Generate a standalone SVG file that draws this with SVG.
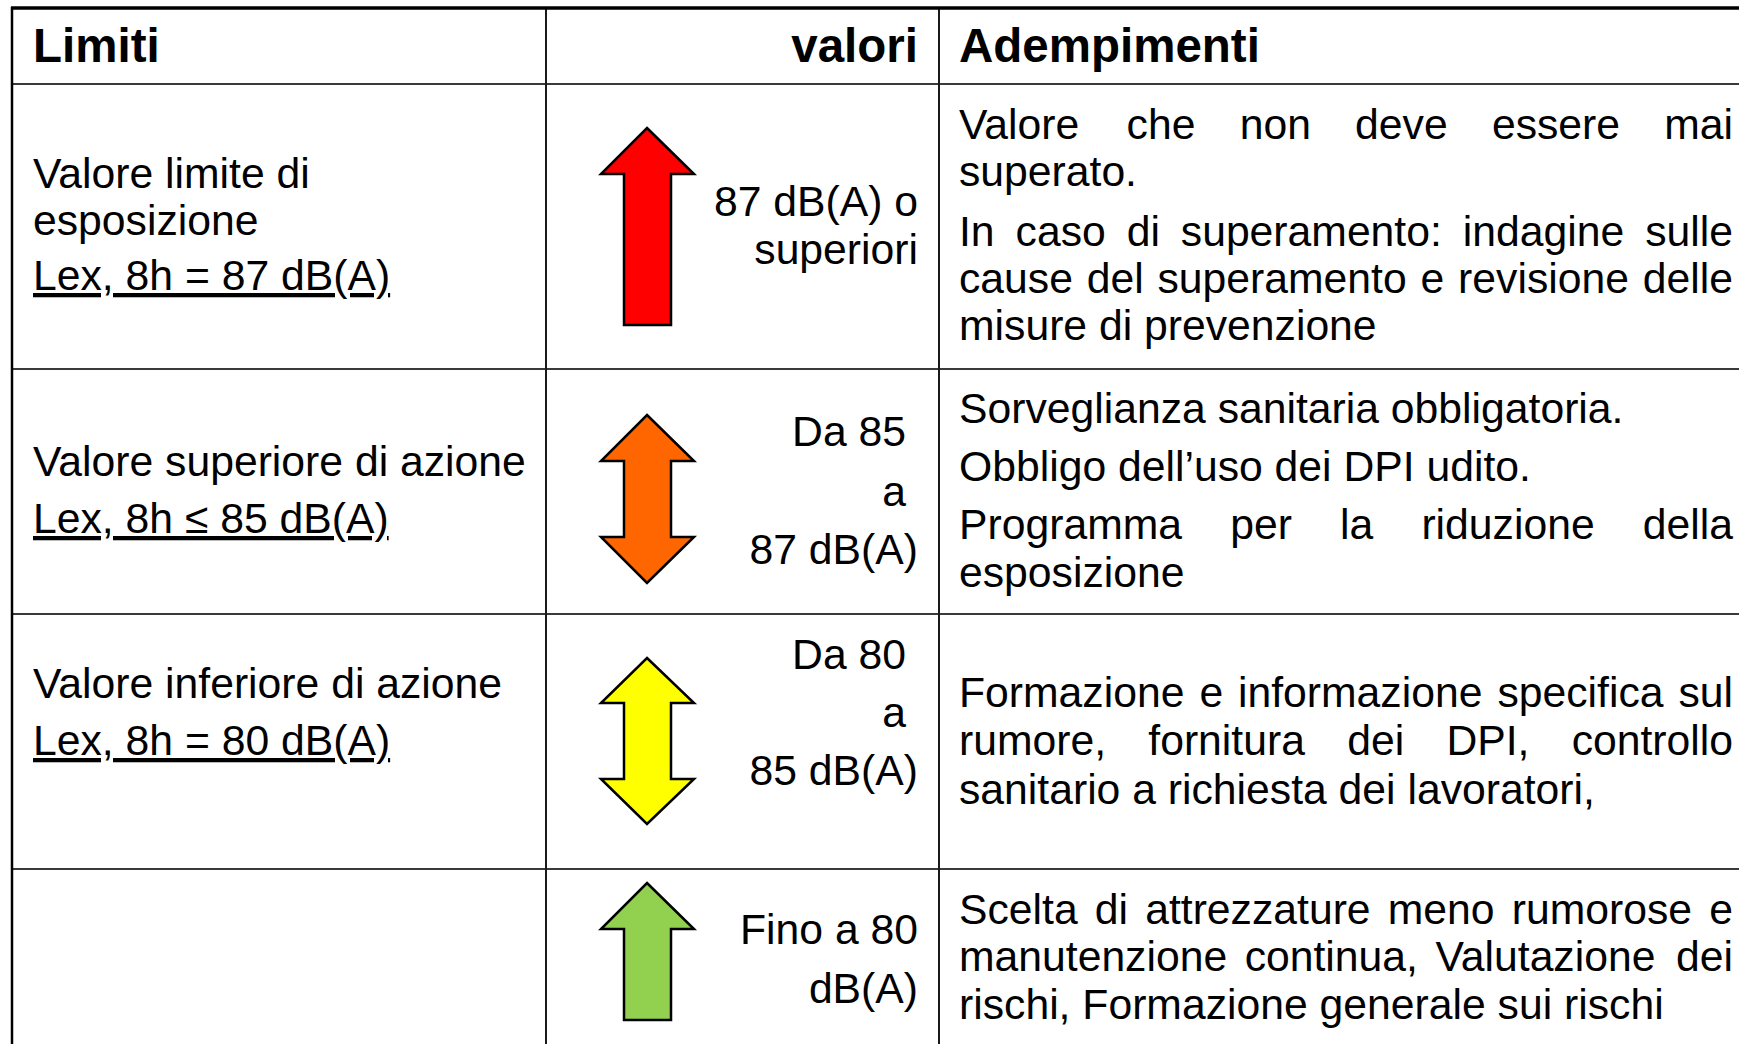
<svg xmlns="http://www.w3.org/2000/svg" width="1739" height="1044" viewBox="0 0 1739 1044">
<style>
  .t { font-family: "Liberation Sans", Arial, sans-serif; font-size: 42.7px; fill: #000; }
  .h { font-family: "Liberation Sans", Arial, sans-serif; font-size: 47.5px; font-weight: bold; fill: #000; }
  .r { text-anchor: end; }
  .u { text-decoration: underline; text-decoration-skip-ink: none; }
  .hl { stroke: #3a3a3a; stroke-width: 2; fill: none; }
  .vl { stroke: #1a1a1a; stroke-width: 2; fill: none; }
  .arrow { stroke: #000; stroke-width: 2.5; stroke-linejoin: miter; }
</style>
<rect x="0" y="0" width="1739" height="1044" fill="#fff"/>

<g id="grid">
  <line class="hl" x1="12" y1="84" x2="1739" y2="84"/>
  <line class="hl" x1="12" y1="369" x2="1739" y2="369"/>
  <line class="hl" x1="12" y1="614" x2="1739" y2="614"/>
  <line class="hl" x1="12" y1="869" x2="1739" y2="869"/>
  <line class="vl" x1="546" y1="8" x2="546" y2="1044"/>
  <line class="vl" x1="939" y1="8" x2="939" y2="1044"/>
  <line stroke="#000" stroke-width="2.5" x1="12" y1="7" x2="12" y2="1044"/>
  <line stroke="#000" stroke-width="3.5" x1="11" y1="8" x2="1739" y2="8"/>
</g>

<g id="header">
  <text class="h" x="33" y="62">Limiti</text>
  <text class="h r" x="918" y="62">valori</text>
  <text class="h" x="959" y="62">Adempimenti</text>
</g>

<g id="row1">
  <g id="row1-limiti">
    <text class="t" x="33" y="188">Valore limite di</text>
    <text class="t" x="33" y="235">esposizione</text>
    <text class="t u" x="33" y="290">Lex, 8h = 87 dB(A)</text>
  </g>
  <g id="row1-valori">
    <path class="arrow" fill="#FF0000" d="M647,128 L694,174 L671,174 L671,325 L624,325 L624,174 L601,174 Z"/>
    <text class="t r" x="918" y="216">87 dB(A) o</text>
    <text class="t r" x="918" y="264">superiori</text>
  </g>
  <g id="row1-adempimenti">
    <text class="t" y="139"><tspan x="959">Valore</tspan><tspan x="1126.6">che</tspan><tspan x="1239.7">non</tspan><tspan x="1355.1">deve</tspan><tspan x="1491.9">essere</tspan><tspan x="1664.2">mai</tspan></text>
    <text class="t" x="959" y="186">superato.</text>
    <text class="t" y="246"><tspan x="959">In</tspan><tspan x="1015.6">caso</tspan><tspan x="1126.7">di</tspan><tspan x="1180.8">superamento:</tspan><tspan x="1462.8">indagine</tspan><tspan x="1645.2">sulle</tspan></text>
    <text class="t" y="293"><tspan x="959">cause</tspan><tspan x="1086.8">del</tspan><tspan x="1157.5">superamento</tspan><tspan x="1420.6">e</tspan><tspan x="1458.1">revisione</tspan><tspan x="1642.8">delle</tspan></text>
    <text class="t" x="959" y="340">misure di prevenzione</text>
  </g>
</g>

<g id="row2">
  <g id="row2-limiti">
    <text class="t" x="33" y="476">Valore superiore di azione</text>
    <text class="t u" x="33" y="533">Lex, 8h ≤ 85 dB(A)</text>
  </g>
  <g id="row2-valori">
    <path class="arrow" fill="#FF6600" d="M647,415 L694,461 L671,461 L671,537 L694,537 L647,583 L601,537 L624,537 L624,461 L601,461 Z"/>
    <text class="t r" x="906" y="446">Da 85</text>
    <text class="t r" x="906" y="506">a</text>
    <text class="t r" x="918" y="564">87 dB(A)</text>
  </g>
  <g id="row2-adempimenti">
    <text class="t" x="959" y="423">Sorveglianza sanitaria obbligatoria.</text>
    <text class="t" x="959" y="481">Obbligo dell’uso dei DPI udito.</text>
    <text class="t" y="539"><tspan x="959">Programma</tspan><tspan x="1230.2">per</tspan><tspan x="1340.0">la</tspan><tspan x="1421.4">riduzione</tspan><tspan x="1642.8">della</tspan></text>
    <text class="t" x="959" y="587">esposizione</text>
  </g>
</g>

<g id="row3">
  <g id="row3-limiti">
    <text class="t" x="33" y="698">Valore inferiore di azione</text>
    <text class="t u" x="33" y="755">Lex, 8h = 80 dB(A)</text>
  </g>
  <g id="row3-valori">
    <path class="arrow" fill="#FFFF00" d="M647,658 L694,703 L671,703 L671,779 L694,779 L647,824 L601,779 L624,779 L624,703 L601,703 Z"/>
    <text class="t r" x="906" y="669">Da 80</text>
    <text class="t r" x="906" y="727">a</text>
    <text class="t r" x="918" y="785">85 dB(A)</text>
  </g>
  <g id="row3-adempimenti">
    <text class="t" y="707"><tspan x="959">Formazione</tspan><tspan x="1199.4">e</tspan><tspan x="1238.0">informazione</tspan><tspan x="1497.4">specifica</tspan><tspan x="1678.4">sul</tspan></text>
    <text class="t" y="755"><tspan x="959">rumore,</tspan><tspan x="1148.3">fornitura</tspan><tspan x="1347.2">dei</tspan><tspan x="1446.4">DPI,</tspan><tspan x="1571.7">controllo</tspan></text>
    <text class="t" x="959" y="804">sanitario a richiesta dei lavoratori,</text>
  </g>
</g>

<g id="row4">
  <g id="row4-valori">
    <path class="arrow" fill="#92D050" d="M647,883 L694,929 L671,929 L671,1020 L624,1020 L624,929 L601,929 Z"/>
    <text class="t r" x="918" y="944">Fino a 80</text>
    <text class="t r" x="918" y="1003">dB(A)</text>
  </g>
  <g id="row4-adempimenti">
    <text class="t" y="924"><tspan x="959">Scelta</tspan><tspan x="1094.8">di</tspan><tspan x="1145.2">attrezzature</tspan><tspan x="1387.8">meno</tspan><tspan x="1511.8">rumorose</tspan><tspan x="1709.3">e</tspan></text>
    <text class="t" y="971"><tspan x="959">manutenzione</tspan><tspan x="1244.7">continua,</tspan><tspan x="1435.5">Valutazione</tspan><tspan x="1676.1">dei</tspan></text>
    <text class="t" x="959" y="1019">rischi, Formazione generale sui rischi</text>
  </g>
</g>
</svg>
